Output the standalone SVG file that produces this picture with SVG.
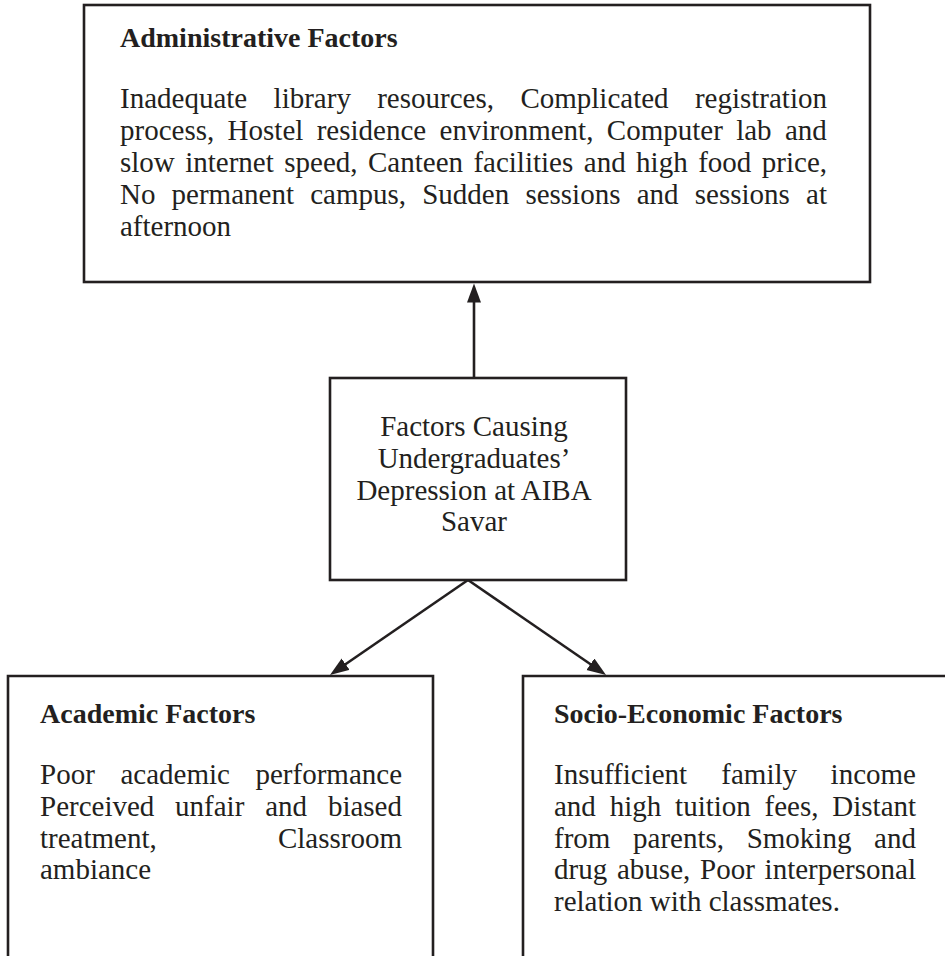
<svg xmlns="http://www.w3.org/2000/svg" width="945" height="956" viewBox="0 0 945 956">
  <style>
    .box { fill: #ffffff; stroke: #231f20; stroke-width: 2.6; }
    .open { fill: none; stroke: #231f20; stroke-width: 2.6; }
    .conn { fill: none; stroke: #231f20; stroke-width: 2.6; }
    .t { font-family: "Liberation Serif", "Times New Roman", serif; font-size: 29px; fill: #231f20; }
    .h { font-family: "Liberation Serif", "Times New Roman", serif; font-size: 28px; font-weight: bold; fill: #231f20; }
    .c { text-anchor: middle; }
  </style>
  <defs>
    <marker id="arrow" markerUnits="userSpaceOnUse" markerWidth="20" markerHeight="15" refX="9" refY="7" orient="auto">
      <path d="M0,0 L19,7 L0,14 z" fill="#231f20"/>
    </marker>
  </defs>
  <rect width="945" height="956" fill="#ffffff"/>

  <g id="connectors">
    <line class="conn" x1="474" y1="378" x2="474" y2="293.5" marker-end="url(#arrow)"/>
    <line class="conn" x1="468" y1="580" x2="338.2" y2="669.3" marker-end="url(#arrow)"/>
    <line class="conn" x1="468" y1="580" x2="597.8" y2="669.3" marker-end="url(#arrow)"/>
  </g>

  <g id="administrative">
    <rect class="box" x="84" y="5" width="786" height="277"/>
    <text class="h" x="120" y="47">Administrative Factors</text>
    <text class="t" y="108"><tspan x="120">Inadequate</tspan><tspan x="273.6">library</tspan><tspan x="377.2">resources,</tspan><tspan x="520.4">Complicated</tspan><tspan x="694.9">registration</tspan></text>
    <text class="t" y="140"><tspan x="120">process,</tspan><tspan x="227.6">Hostel</tspan><tspan x="316.7">residence</tspan><tspan x="439.6">environment,</tspan><tspan x="606.8">Computer</tspan><tspan x="736.2">lab</tspan><tspan x="785">and</tspan></text>
    <text class="t" y="172"><tspan x="120">slow</tspan><tspan x="185.2">internet</tspan><tspan x="284.3">speed,</tspan><tspan x="368">Canteen</tspan><tspan x="473.4">facilities</tspan><tspan x="583.8">and</tspan><tspan x="636.1">high</tspan><tspan x="698.2">food</tspan><tspan x="761.8">price,</tspan></text>
    <text class="t" y="204"><tspan x="120">No</tspan><tspan x="171.6">permanent</tspan><tspan x="310.2">campus,</tspan><tspan x="422.2">Sudden</tspan><tspan x="525.4">sessions</tspan><tspan x="636.7">and</tspan><tspan x="694.8">sessions</tspan><tspan x="806.1">at</tspan></text>
    <text class="t" x="120" y="236">afternoon</text>
  </g>

  <g id="center">
    <rect class="box" x="330" y="378" width="296" height="202"/>
    <text class="t c" x="474" y="436">Factors Causing</text>
    <text class="t c" x="474" y="468">Undergraduates’</text>
    <text class="t c" x="474" y="500">Depression at AIBA</text>
    <text class="t c" x="474" y="531">Savar</text>
  </g>

  <g id="academic">
    <path class="open" d="M8,960 V676 H433 V960"/>
    <text class="h" x="40" y="723">Academic Factors</text>
    <text class="t" y="784"><tspan x="40">Poor</tspan><tspan x="120.4">academic</tspan><tspan x="255.5">performance</tspan></text>
    <text class="t" y="816"><tspan x="40">Perceived</tspan><tspan x="175.1">unfair</tspan><tspan x="265.2">and</tspan><tspan x="327.9">biased</tspan></text>
    <text class="t" y="848"><tspan x="40">treatment,</tspan><tspan x="277.9">Classroom</tspan></text>
    <text class="t" x="40" y="879">ambiance</text>
  </g>

  <g id="socioeconomic">
    <path class="open" d="M523,960 V676 H950"/>
    <text class="h" x="554" y="723">Socio-Economic Factors</text>
    <text class="t" y="784"><tspan x="554">Insufficient</tspan><tspan x="721.3">family</tspan><tspan x="830.6">income</tspan></text>
    <text class="t" y="816"><tspan x="554">and</tspan><tspan x="609.7">high</tspan><tspan x="675.1">tuition</tspan><tspan x="764.6">fees,</tspan><tspan x="832.3">Distant</tspan></text>
    <text class="t" y="848"><tspan x="554">from</tspan><tspan x="633.1">parents,</tspan><tspan x="746.7">Smoking</tspan><tspan x="874.1">and</tspan></text>
    <text class="t" y="879"><tspan x="554">drug</tspan><tspan x="617">abuse,</tspan><tspan x="700">Poor</tspan><tspan x="764.6">interpersonal</tspan></text>
    <text class="t" x="554" y="911">relation with classmates.</text>
  </g>
</svg>
